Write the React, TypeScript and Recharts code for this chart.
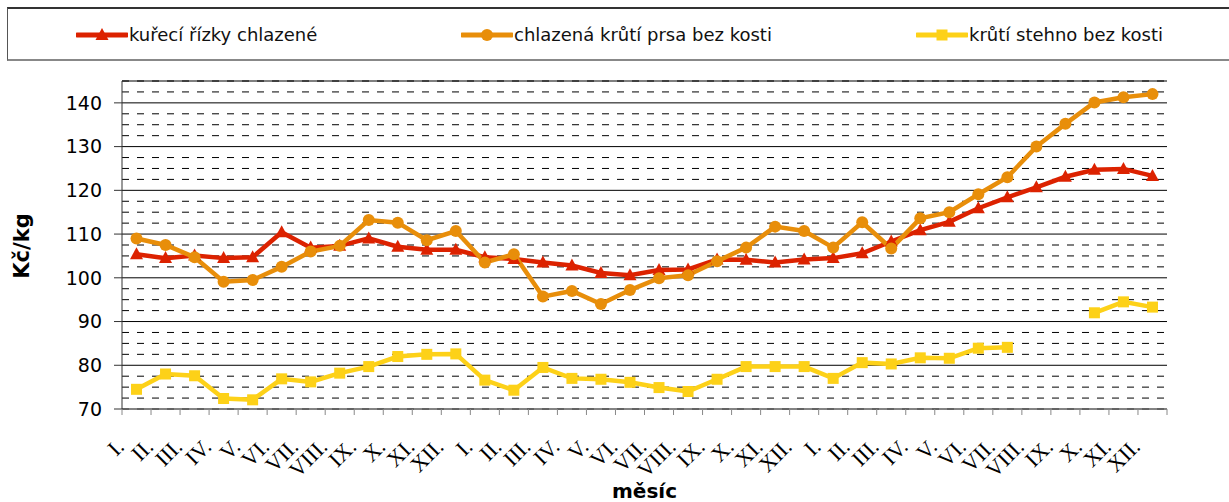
import { LineChart, Line, XAxis, YAxis, CartesianGrid, Label } from "recharts";

// 3 years of monthly prices (Kč/kg)
const MONTHS = [
  "I.", "II.", "III.", "IV.", "V.", "VI.", "VII.", "VIII.", "IX.", "X.", "XI.", "XII.",
  "I.", "II.", "III.", "IV.", "V.", "VI.", "VII.", "VIII.", "IX.", "X.", "XI.", "XII.",
  "I.", "II.", "III.", "IV.", "V.", "VI.", "VII.", "VIII.", "IX.", "X.", "XI.", "XII.",
];

const KURECI = [
  105.4, 104.5, 105.1, 104.5, 104.7, 110.4, 106.9, 107.3, 109.0, 107.1, 106.4, 106.4,
  104.7, 104.3, 103.5, 102.8, 101.1, 100.6, 101.8, 101.9, 104.2, 104.1, 103.5, 104.2,
  104.5, 105.6, 108.3, 110.9, 112.8, 115.9, 118.4, 120.7, 123.1, 124.7, 124.9, 123.3,
];

const KRUTI_PRSA = [
  109.0, 107.5, 104.7, 99.1, 99.5, 102.5, 106.0, 107.3, 113.2, 112.6, 108.6, 110.7,
  103.5, 105.4, 95.7, 97.0, 94.0, 97.2, 99.9, 100.6, 103.8, 106.9, 111.7, 110.7,
  106.9, 112.7, 106.7, 113.6, 115.0, 119.1, 123.0, 130.0, 135.2, 140.1, 141.3, 142.0,
];

const KRUTI_STEHNO: (number | null)[] = [
  74.5, 78.0, 77.6, 72.4, 72.1, 76.9, 76.2, 78.2, 79.7, 82.0, 82.5, 82.6,
  76.6, 74.3, 79.5, 77.0, 76.8, 76.1, 74.9, 74.0, 76.8, 79.7, 79.7, 79.7,
  77.0, 80.6, 80.3, 81.7, 81.6, 83.9, 84.1, null, null, 92.0, 94.5, 93.3,
];

const MAJOR_TICKS = [70, 80, 90, 100, 110, 120, 130, 140];
const MINOR_TICKS = [
  72.5, 75, 77.5, 82.5, 85, 87.5, 92.5, 95, 97.5, 102.5, 105, 107.5,
  112.5, 115, 117.5, 122.5, 125, 127.5, 132.5, 135, 137.5, 142.5, 145,
];

const SERIES = [
  { key: "kureci", name: "kuřecí řízky chlazené", color: "#DC2200", shape: "triangle" },
  { key: "prsa", name: "chlazená krůtí prsa bez kosti", color: "#E88E0A", shape: "circle" },
  { key: "stehno", name: "krůtí stehno bez kosti", color: "#FDD118", shape: "square" },
];

const data = MONTHS.map((m, i) => ({
  month: m,
  kureci: KURECI[i],
  prsa: KRUTI_PRSA[i],
  stehno: KRUTI_STEHNO[i],
}));

const W = 1229;
const H = 502;
const PLOT_LEFT = 122;
const PLOT_RIGHT = 1167;
const HALF_BAND = (PLOT_RIGHT - PLOT_LEFT) / MONTHS.length / 2;
const SANS = "'DejaVu Sans', Verdana, sans-serif";

function Marker({ shape, cx, cy, color }: { shape: string; cx: number; cy: number; color: string }) {
  if (shape === "triangle")
    return <polygon points={`${cx},${cy - 7} ${cx + 6.5},${cy + 5} ${cx - 6.5},${cy + 5}`} fill={color} />;
  if (shape === "square") return <rect x={cx - 5.5} y={cy - 5.5} width={11} height={11} fill={color} />;
  return <circle cx={cx} cy={cy} r={6} fill={color} />;
}

const makeDot = (shape: string, color: string) => (p: any) => {
  if (p.cx == null || p.cy == null || p.value == null) return <g key={p.key ?? p.index} />;
  return (
    <g key={p.key ?? p.index}>
      <Marker shape={shape} cx={p.cx} cy={p.cy} color={color} />
    </g>
  );
};

// month labels rotated 45°, tick marks sit on the category boundaries
function MonthTick(props: any) {
  const { x, y, payload, index } = props;
  const tx = x - 11;
  const ty = y + 39;
  return (
    <g>
      <line x1={x - HALF_BAND} x2={x - HALF_BAND} y1={y} y2={y + 6} stroke="#888" />
      {index === MONTHS.length - 1 && (
        <line x1={x + HALF_BAND} x2={x + HALF_BAND} y1={y} y2={y + 6} stroke="#888" />
      )}
      <text
        x={tx}
        y={ty}
        transform={`rotate(-45, ${tx}, ${ty})`}
        textAnchor="end"
        fontFamily="'Liberation Serif', 'Times New Roman', serif"
        fontSize={22}
        fill="#000"
      >
        {payload.value}
      </text>
    </g>
  );
}

function LegendBox() {
  const left = [75, 460, 915];
  return (
    <div
      style={{
        position: "absolute",
        left: 7,
        top: 7,
        width: W,
        height: 54,
        borderTop: "2px solid #333",
        borderLeft: "1px solid #555",
        borderBottom: "2px solid #888",
        boxSizing: "border-box",
        background: "#fff",
      }}
    >
      {SERIES.map((s, i) => (
        <div
          key={s.key}
          style={{
            position: "absolute",
            left: left[i] - 7,
            top: 15,
            display: "flex",
            alignItems: "center",
            fontFamily: SANS,
            fontSize: 18,
            color: "#111",
            whiteSpace: "nowrap",
          }}
        >
          <svg width={52} height={20} style={{ marginRight: 1 }}>
            <line x1={1} x2={51} y1={10} y2={10} stroke={s.color} strokeWidth={5} strokeLinecap="round" />
            <Marker shape={s.shape} cx={26} cy={10} color={s.color} />
          </svg>
          {s.name}
        </div>
      ))}
    </div>
  );
}

export default function App() {
  return (
    <div style={{ position: "relative", width: W, height: H, background: "#fff", overflow: "hidden" }}>
      <style>{`body{margin:0}`}</style>
      <LineChart width={W} height={H} data={data} margin={{ top: 81, right: W - PLOT_RIGHT, bottom: 0, left: 0 }}>
        <YAxis
          yAxisId="minor"
          hide
          type="number"
          domain={[70, 145]}
          ticks={MINOR_TICKS}
          interval={0}
          allowDataOverflow
        />
        <CartesianGrid yAxisId="minor" vertical={false} stroke="#000" strokeDasharray="7 8" />
        <CartesianGrid vertical={false} stroke="#000" />
        <XAxis
          dataKey="month"
          interval={0}
          height={93}
          tickSize={0}
          tickMargin={0}
          tickLine={false}
          tick={<MonthTick />}
          stroke="#888"
          padding={{ left: HALF_BAND, right: HALF_BAND }}
          allowDuplicatedCategory
        >
          <Label
            content={(p: any) => {
              const vb = p.viewBox;
              return (
                <text
                  x={vb.x + vb.width / 2}
                  y={498}
                  textAnchor="middle"
                  fontFamily={SANS}
                  fontWeight="bold"
                  fontSize={20}
                  fill="#000"
                >
                  měsíc
                </text>
              );
            }}
          />
        </XAxis>
        <YAxis
          type="number"
          domain={[70, 145]}
          ticks={MAJOR_TICKS}
          interval={0}
          width={PLOT_LEFT}
          tickSize={8}
          tickMargin={12}
          stroke="#333"
          tick={{ fontSize: 19, fill: "#000", fontFamily: SANS }}
          allowDataOverflow
        >
          <Label
            content={() => (
              <text
                x={29}
                y={246}
                transform="rotate(-90, 29, 246)"
                textAnchor="middle"
                fontFamily={SANS}
                fontWeight="bold"
                fontSize={21}
                fill="#000"
              >
                Kč/kg
              </text>
            )}
          />
        </YAxis>
        {SERIES.map((s) => (
          <Line
            key={s.key}
            dataKey={s.key}
            name={s.name}
            stroke={s.color}
            strokeWidth={4.5}
            dot={makeDot(s.shape, s.color)}
            activeDot={false}
            isAnimationActive={false}
            connectNulls={false}
          />
        ))}
      </LineChart>
      <LegendBox />
    </div>
  );
}
